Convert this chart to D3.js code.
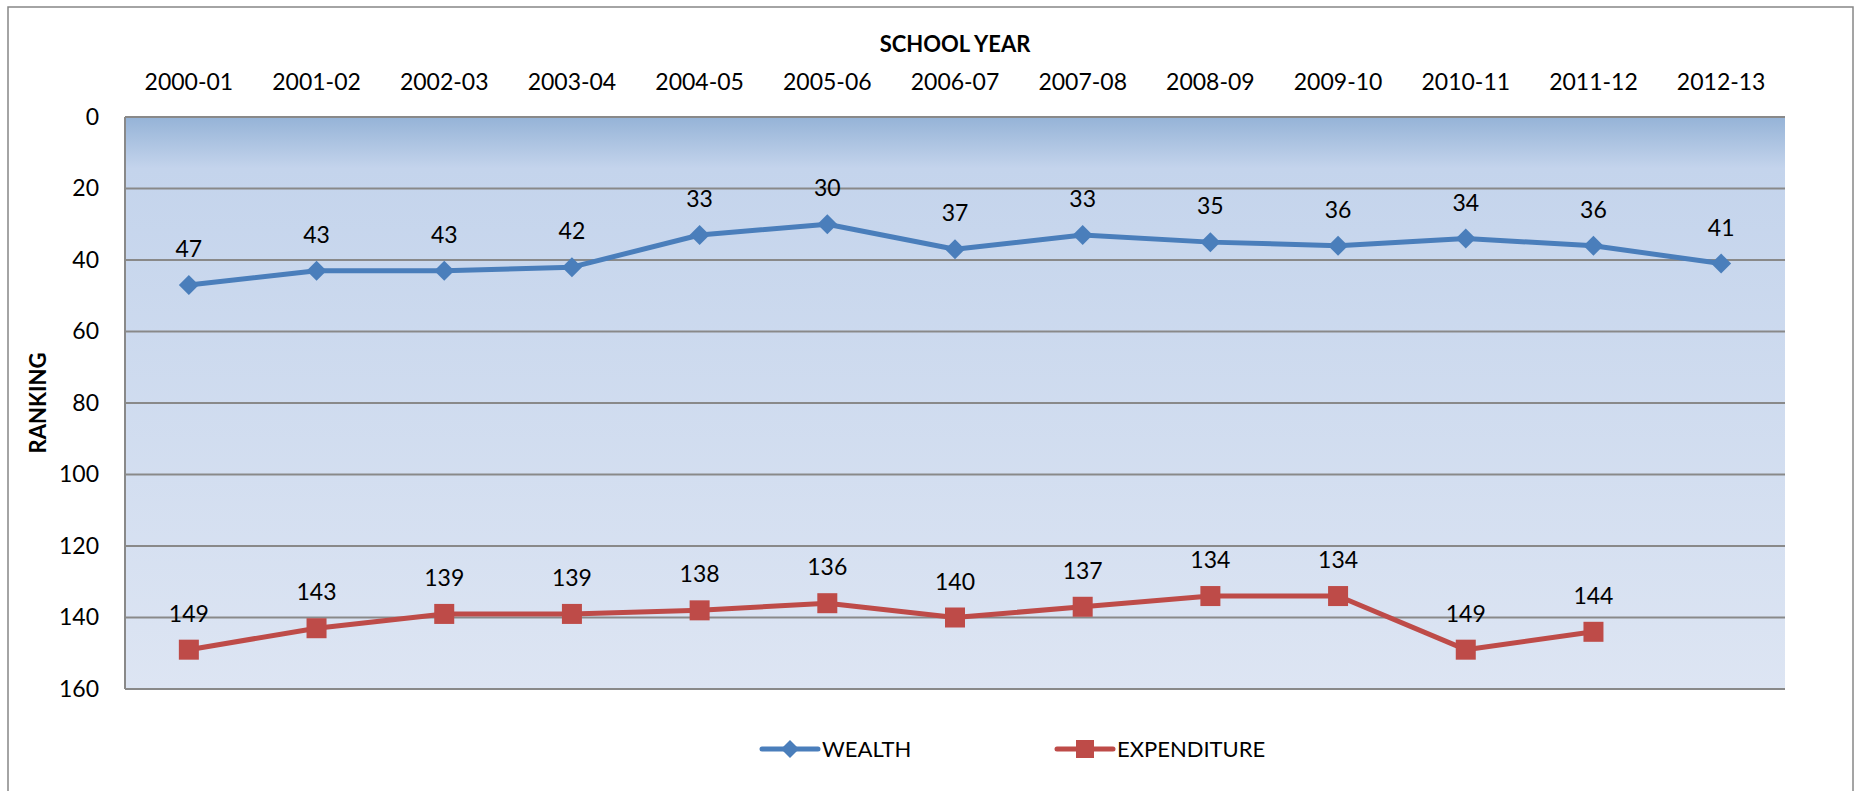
<!DOCTYPE html>
<html>
<head>
<meta charset="utf-8">
<script src="https://cdn.jsdelivr.net/npm/d3@7"></script>
<style>
  html, body { margin: 0; padding: 0; background: #fff; }
  svg { display: block; }
  text { font-family: Lato, "Open Sans", sans-serif; fill: #000; }
</style>
</head>
<body>
<svg id="chart" width="1856" height="791"></svg>
<script>
// School years along the top axis
const years = ["2000-01", "2001-02", "2002-03", "2003-04", "2004-05", "2005-06", "2006-07",
               "2007-08", "2008-09", "2009-10", "2010-11", "2011-12", "2012-13"];
// Rankings per school year (null = no value)
const wealth = [47, 43, 43, 42, 33, 30, 37, 33, 35, 36, 34, 36, 41];
const expenditure = [149, 143, 139, 139, 138, 136, 140, 137, 134, 134, 149, 144, null];
const yTicks = [0, 20, 40, 60, 80, 100, 120, 140, 160];

const plot = { left: 125, top: 117, right: 1785, bottom: 689 };

const svg = d3.select("#chart");

// Outer chart frame
svg.append("rect")
  .attr("x", 8).attr("y", 7).attr("width", 1845).attr("height", 790)
  .attr("fill", "#fff").attr("stroke", "#878787").attr("stroke-width", 1.5);

// Plot background gradient
const defs = svg.append("defs");
const grad = defs.append("linearGradient").attr("id", "plotBg")
  .attr("x1", 0).attr("y1", 0).attr("x2", 0).attr("y2", 1);
grad.append("stop").attr("offset", "0%").attr("stop-color", "#95B3D7");
grad.append("stop").attr("offset", "9%").attr("stop-color", "#C4D4EC");
grad.append("stop").attr("offset", "100%").attr("stop-color", "#DDE5F3");

const x = d3.scaleBand().domain(years).range([plot.left, plot.right]);
const y = d3.scaleLinear().domain([0, 160]).range([plot.top, plot.bottom]);
const cx = d => x(d) + x.bandwidth() / 2;

svg.append("rect")
  .attr("x", plot.left).attr("y", plot.top)
  .attr("width", plot.right - plot.left).attr("height", plot.bottom - plot.top)
  .attr("fill", "url(#plotBg)");

// Horizontal gridlines
svg.append("g").selectAll("line").data(yTicks).join("line")
  .attr("x1", plot.left).attr("x2", plot.right)
  .attr("y1", d => y(d)).attr("y2", d => y(d))
  .attr("stroke", "#898989").attr("stroke-width", 2);

// Left axis line
svg.append("line")
  .attr("x1", plot.left).attr("x2", plot.left)
  .attr("y1", plot.top).attr("y2", plot.bottom)
  .attr("stroke", "#898989").attr("stroke-width", 2);

// Y axis tick labels
const yAxis = d3.axisLeft(y).tickValues(yTicks).tickSize(0).tickPadding(26);
const yg = svg.append("g").attr("transform", `translate(${plot.left},0)`).call(yAxis);
yg.select(".domain").remove();
yg.selectAll("text").attr("font-size", 23).attr("font-family", "Lato, sans-serif").attr("fill", "#000");

// X axis labels along the top
const xAxis = d3.axisTop(x).tickSize(0).tickPadding(0);
const xg = svg.append("g").attr("transform", `translate(0,90)`).call(xAxis);
xg.select(".domain").remove();
xg.selectAll("text").attr("font-size", 23).attr("font-family", "Lato, sans-serif").attr("fill", "#000").attr("dy", 0);

// Axis titles
svg.append("text")
  .attr("x", (plot.left + plot.right) / 2).attr("y", 52)
  .attr("text-anchor", "middle").attr("font-size", 22).attr("font-weight", "bold")
  .text("SCHOOL YEAR");
svg.append("text")
  .attr("transform", `translate(46,${(plot.top + plot.bottom) / 2}) rotate(-90)`)
  .attr("text-anchor", "middle").attr("font-size", 22).attr("font-weight", "bold")
  .text("RANKING");

const series = [
  { name: "WEALTH", values: wealth, color: "#4A7EBB", marker: "diamond" },
  { name: "EXPENDITURE", values: expenditure, color: "#BE4B48", marker: "square" }
];

const line = d3.line()
  .defined(d => d.v != null)
  .x(d => cx(d.year)).y(d => y(d.v));

function drawMarker(g, type, color, px, py, r) {
  if (type === "diamond") {
    g.append("path")
      .attr("d", `M${px},${py - r}L${px + r},${py}L${px},${py + r}L${px - r},${py}Z`)
      .attr("fill", color);
  } else {
    g.append("rect")
      .attr("x", px - r).attr("y", py - r).attr("width", 2 * r).attr("height", 2 * r)
      .attr("fill", color);
  }
}

series.forEach(s => {
  const pts = years.map((yr, i) => ({ year: yr, v: s.values[i] }));
  const g = svg.append("g");
  g.append("path").datum(pts)
    .attr("d", line).attr("fill", "none")
    .attr("stroke", s.color).attr("stroke-width", 5).attr("stroke-linejoin", "round");
  pts.filter(p => p.v != null).forEach(p => {
    drawMarker(g, s.marker, s.color, cx(p.year), y(p.v), 10);
    g.append("text")
      .attr("x", cx(p.year)).attr("y", y(p.v) - 28)
      .attr("text-anchor", "middle").attr("font-size", 23)
      .text(p.v);
  });
});

// Legend
const legendItems = [
  { s: series[0], x: 762 },
  { s: series[1], x: 1057 }
];
legendItems.forEach(({ s, x: lx }) => {
  const g = svg.append("g");
  const ly = 749;
  g.append("line").attr("x1", lx).attr("x2", lx + 56).attr("y1", ly).attr("y2", ly)
    .attr("stroke", s.color).attr("stroke-width", 5).attr("stroke-linecap", "round");
  drawMarker(g, s.marker, s.color, lx + 28, ly, 9);
  g.append("text").attr("x", lx + 60).attr("y", ly + 8)
    .attr("font-size", 22).text(s.name);
});
</script>
</body>
</html>
